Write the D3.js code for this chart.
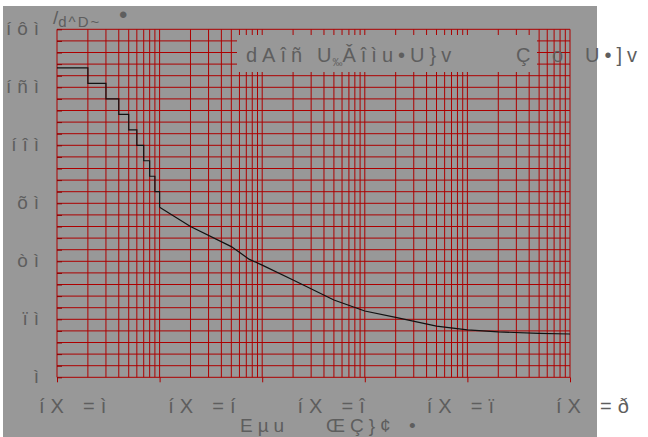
<!DOCTYPE html>
<html>
<head>
<meta charset="utf-8">
<script src="https://cdn.jsdelivr.net/npm/d3@7"></script>
<style>
  body { margin: 0; background: #fff; }
  svg { display: block; }
  text { font-family: "Liberation Sans", Arial, sans-serif; fill: #5e5e5e; }
</style>
</head>
<body>
<svg id="chart" width="648" height="437"></svg>
<script>
// step part of the curve (x = 1..10)
const stepX = [1, 2, 3, 4, 5, 6, 7, 8, 9, 10]
const stepY = [160, 152, 144, 136, 128, 120, 112, 104, 96, 88]
// smooth part (x = 10..1e5)
const curveX = [10, 20, 50, 75, 100, 200, 500, 1000, 2000, 5000, 10000, 20000, 50000, 100000]
const curveY = [88, 78, 67.6, 61, 58, 50.3, 40, 34.3, 31, 26.5, 24.5, 23.5, 22.7, 22.4]

const yTicks = [0, 30, 60, 90, 120, 150, 180]
const yTickLabels = ["ì", "ïì", "òì", "õì", "íîì", "íñì", "íôì"]
const xTickLabels = ["ì", "í", "î", "ï", "ð"]
const xMajor = [1, 10, 100, 1000, 10000, 100000]

const svg = d3.select("#chart")

const x = d3.scaleLog().domain([1, 100000]).range([57, 570])
const y = d3.scaleLinear().domain([0, 180]).range([377.3, 29.3])

// grey panel
svg.append("rect").attr("x", 3).attr("y", 6).attr("width", 594).attr("height", 431).attr("fill", "#989898")

// grid
const grid = svg.append("g").attr("stroke", "#ad0000").attr("stroke-width", 1)
grid.selectAll(".v").data(x.ticks()).join("line")
  .attr("x1", d => x(d)).attr("x2", d => x(d))
  .attr("y1", y(0)).attr("y2", y(180))
grid.selectAll(".h").data(d3.range(0, 181, 6)).join("line")
  .attr("x1", x(1)).attr("x2", x(100000))
  .attr("y1", d => y(d)).attr("y2", d => y(d))

// axis ticks
svg.append("g").attr("transform", `translate(0,${y(0)})`)
  .call(d3.axisBottom(x).tickValues(xMajor).tickSize(5).tickFormat(""))
  .call(g => g.select(".domain").remove())
  .call(g => g.selectAll("line").attr("stroke", "#ad0000"))
svg.append("g").attr("transform", `translate(${x(1)},0)`)
  .call(d3.axisLeft(y).tickValues(d3.range(0, 181, 6)).tickSize(-5).tickFormat(""))
  .call(g => g.select(".domain").remove())
  .call(g => g.selectAll("line").attr("stroke", "#8a0000"))

// legend box
svg.append("rect").attr("x", 237).attr("y", 35).attr("width", 300).attr("height", 37).attr("fill", "#989898")

// line
const line = d3.line().x(d => x(d[0])).y(d => y(d[1]))
svg.append("path").datum(d3.zip(stepX, stepY))
  .attr("fill", "none").attr("stroke", "#111").attr("stroke-width", 1.2)
  .attr("d", line.curve(d3.curveStepAfter))
svg.append("path").datum(d3.zip(curveX, curveY))
  .attr("fill", "none").attr("stroke", "#111").attr("stroke-width", 1.2)
  .attr("d", line.curve(d3.curveLinear))

// y labels
svg.selectAll(".yl").data(yTicks).join("text")
  .attr("x", 45).attr("y", d => y(d) + 6)
  .attr("text-anchor", "end").attr("font-size", 19).attr("letter-spacing", 6)
  .text((d, i) => yTickLabels[i])

// x labels
const xl = d3.scalePoint().domain(xTickLabels).range([39, 556])
svg.selectAll(".xa").data(xTickLabels).join("text")
  .attr("x", d => xl(d)).attr("y", 413).attr("font-size", 20).attr("letter-spacing", 6)
  .text("íX")
svg.selectAll(".xb").data(xTickLabels).join("text")
  .attr("x", d => xl(d) + 44).attr("y", 413).attr("font-size", 20).attr("letter-spacing", 6)
  .text(d => "=" + d)

// x title
const xTitle = [["Eµu", 240], ["ŒÇ}¢", 326], ["•", 409]]
svg.selectAll(".xt").data(xTitle).join("text")
  .attr("x", d => d[1]).attr("y", 432).attr("font-size", 19).attr("letter-spacing", 5)
  .text(d => d[0])

// y title
const yTitle = svg.append("text").attr("x", 53).attr("y", 24).attr("font-size", 19)
yTitle.append("tspan").text("/")
yTitle.append("tspan").attr("font-size", 15).attr("dy", 3).attr("letter-spacing", 2).text("d^D~")
svg.append("text").attr("x", 119).attr("y", 23).attr("font-size", 24).text("•")

// legend text
const legend = [["dAîñ", 246], ["Ç", 516], ["o", 552], ["U•]v", 585]]
svg.selectAll(".lg").data(legend).join("text")
  .attr("x", d => d[1]).attr("y", 62).attr("font-size", 20).attr("letter-spacing", 5)
  .text(d => d[0])
const lg2 = svg.append("text").attr("x", 317).attr("y", 62).attr("font-size", 20).attr("letter-spacing", 5)
lg2.append("tspan").attr("letter-spacing", 1).text("U")
lg2.append("tspan").attr("font-size", 10).attr("letter-spacing", 0).attr("dy", 4).text("‰")
lg2.append("tspan").attr("dy", -4).text("Ǎîìu•U}v")
</script>
</body>
</html>
